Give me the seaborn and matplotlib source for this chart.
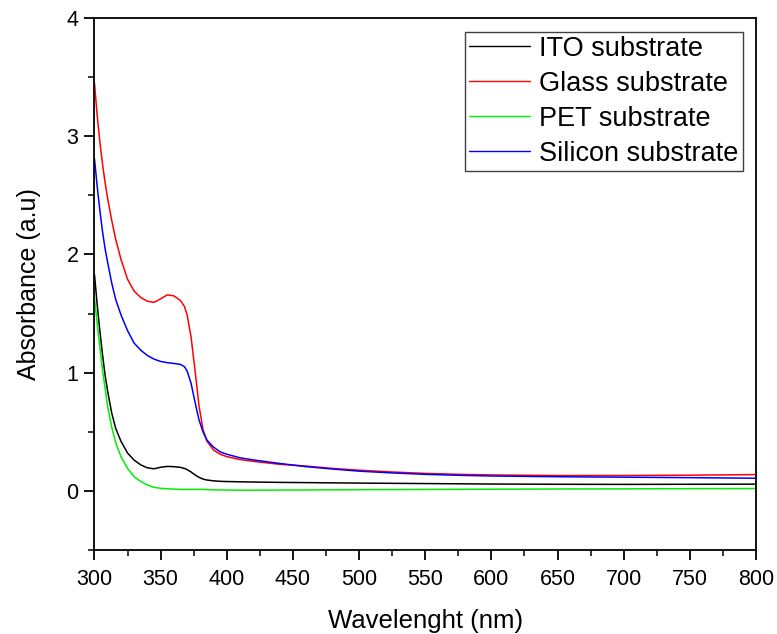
import matplotlib
matplotlib.use("Agg")
import matplotlib.pyplot as plt
from matplotlib.ticker import MultipleLocator
import seaborn as sns
import pandas as pd

# wavelength grid (nm) and absorbance
wavelength = [300, 302, 304, 306, 308, 310, 313, 316, 320, 325, 330, 335, 340, 345,
              350, 355, 360, 365, 368, 370, 373, 376, 379, 382, 385, 390, 395, 400,
              410, 420, 440, 460, 480, 500, 525, 550, 575, 600, 650, 700, 750, 800]

ito = [1.83, 1.58, 1.36, 1.16, 0.98, 0.84, 0.66, 0.53, 0.42, 0.32,
       0.26, 0.22, 0.195, 0.187, 0.20, 0.207, 0.205, 0.199, 0.19, 0.18,
       0.16, 0.135, 0.115, 0.10, 0.092, 0.085, 0.081, 0.079, 0.077, 0.075,
       0.072, 0.07, 0.068, 0.066, 0.064, 0.062, 0.06, 0.058, 0.056, 0.055, 0.056, 0.057]

glass = [3.45, 3.18, 2.96, 2.77, 2.61, 2.47, 2.29, 2.13, 1.96, 1.79,
         1.69, 1.635, 1.605, 1.595, 1.625, 1.658, 1.65, 1.61, 1.56, 1.49,
         1.30, 1.02, 0.72, 0.52, 0.42, 0.345, 0.31, 0.29, 0.265, 0.25,
         0.225, 0.21, 0.19, 0.175, 0.16, 0.148, 0.14, 0.135, 0.13, 0.13, 0.133, 0.138]

pet = [1.63, 1.42, 1.22, 1.03, 0.87, 0.71, 0.54, 0.41, 0.29, 0.19,
       0.12, 0.08, 0.05, 0.03, 0.022, 0.018, 0.015, 0.013, 0.012, 0.012,
       0.012, 0.013, 0.013, 0.012, 0.011, 0.009, 0.008, 0.007, 0.006, 0.006,
       0.007, 0.008, 0.009, 0.01, 0.011, 0.012, 0.013, 0.014, 0.016, 0.017, 0.019, 0.02]

silicon = [2.81, 2.58, 2.38, 2.20, 2.05, 1.93, 1.76, 1.62, 1.49, 1.355,
           1.25, 1.19, 1.145, 1.115, 1.095, 1.085, 1.078, 1.07, 1.05, 1.015,
           0.91, 0.75, 0.60, 0.50, 0.43, 0.37, 0.33, 0.31, 0.28, 0.262,
           0.232, 0.205, 0.185, 0.167, 0.152, 0.14, 0.132, 0.126, 0.12, 0.116, 0.112, 0.107]

labels = ["ITO substrate", "Glass substrate", "PET substrate", "Silicon substrate"]
colors = ["black", "#ff0000", "#00ee00", "#0000ff"]

frames = []
for lab, vals in zip(labels, [ito, glass, pet, silicon]):
    frames.append(pd.DataFrame({"wl": wavelength, "abs": vals, "sample": lab}))
df = pd.concat(frames, ignore_index=True)

sns.set_style("ticks")
plt.rcParams["font.family"] = ["Liberation Sans", "DejaVu Sans"]
plt.rcParams["text.color"] = "black"
plt.rcParams["axes.labelcolor"] = "black"

fig = plt.figure(figsize=(7.77, 6.34), dpi=100)
ax = fig.add_axes([0.1216, 0.1325, 0.8514, 0.839])

sns.lineplot(data=df, x="wl", y="abs", hue="sample", hue_order=labels,
             palette=dict(zip(labels, colors)), linewidth=1.1, ax=ax)

ax.set_xlim(300, 800)
ax.set_ylim(-0.5, 4)
ax.xaxis.set_major_locator(MultipleLocator(50))
ax.xaxis.set_minor_locator(MultipleLocator(25))
ax.yaxis.set_major_locator(MultipleLocator(1))
ax.yaxis.set_minor_locator(MultipleLocator(0.5))
ax.tick_params(which="major", direction="out", length=7.5, width=1.3,
               labelsize=15.5, colors="black", top=False, right=False)
ax.tick_params(which="minor", direction="out", length=4, width=1.3,
               top=False, right=False)
ax.tick_params(axis="x", which="major", pad=6)
ax.tick_params(axis="y", which="major", pad=4)
for sp in ax.spines.values():
    sp.set_linewidth(1.3)
    sp.set_color("black")

ax.set_xlabel("Wavelenght (nm)", fontsize=18.5, labelpad=14)
ax.set_ylabel("Absorbance (a.u)", fontsize=18, labelpad=18)

leg = ax.legend(loc="upper right", bbox_to_anchor=(0.980, 0.974), borderaxespad=0,
                fontsize=19.5, handlelength=2.25, handletextpad=0.33,
                labelspacing=0.33, borderpad=0.15, fancybox=False,
                framealpha=1, edgecolor="#404040")
leg.get_frame().set_linewidth(1.0)
for line in leg.get_lines():
    line.set_linewidth(1.0)

fig.savefig("out.png", dpi=100)
